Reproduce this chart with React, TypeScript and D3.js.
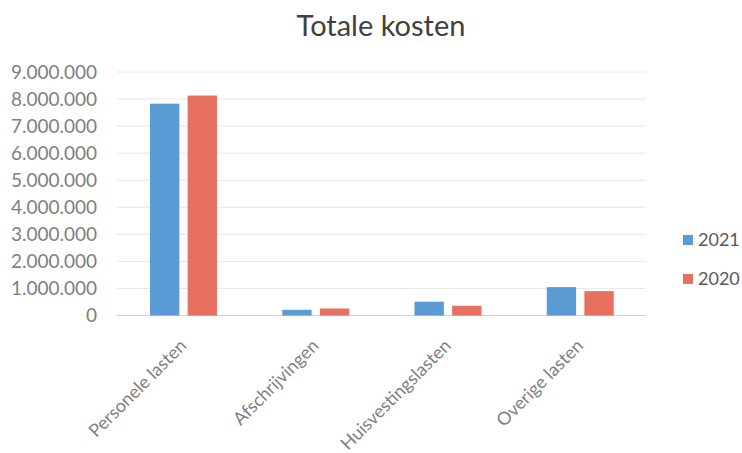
import React from "react";
import * as d3 from "d3";

const categories = ["Personele lasten", "Afschrijvingen", "Huisvestingslasten", "Overige lasten"];
const seriesNames = ["2021", "2020"];
const values2021 = [7830000, 210000, 510000, 1050000];
const values2020 = [8130000, 260000, 360000, 900000];
const yTicks = [0, 1000000, 2000000, 3000000, 4000000, 5000000, 6000000, 7000000, 8000000, 9000000];
const colors = ["#5b9bd5", "#e8705f"];

const W = 742;
const H = 453;
const FONT = "Lato, 'Open Sans', sans-serif";

export default function App() {
  const x = d3.scaleBand<string>().domain(categories).range([117.5, 646.5]).paddingInner(0).paddingOuter(0);
  const inner = d3.scaleBand<string>().domain(seriesNames).range([32.5, 132 - 32.5]).paddingInner(0.22);
  const y = d3.scaleLinear().domain([0, 9000000]).range([315.5, 72]);
  const fmt = (v: number) => d3.format(",")(v).replace(/,/g, ".");
  const series = [values2021, values2020];

  return (
    <svg width={W} height={H} style={{ position: "absolute", left: 0, top: 0, background: "#fff" }} fontFamily={FONT}>
      <rect width={W} height={H} fill="#fff" />
      <text x={381} y={36} textAnchor="middle" fontSize={29} fill="#404040">Totale kosten</text>
      {yTicks.map((t) => (
        <g key={t}>
          <line x1={117} x2={646} y1={y(t)} y2={y(t)} stroke={t === 0 ? "#d0d0d0" : "#e6e6e6"} strokeWidth={1} />
          <text x={97} y={y(t)} dy="0.35em" textAnchor="end" fontSize={19} fill="#7f7f7f">{fmt(t)}</text>
        </g>
      ))}
      {categories.map((c, i) => (
        <g key={c} transform={`translate(${x(c)},0)`}>
          {seriesNames.map((s, j) => (
            <rect key={s} x={inner(s)} width={inner.bandwidth()} y={y(series[j][i])} height={y(0) - y(series[j][i])} fill={colors[j]} />
          ))}
        </g>
      ))}
      {categories.map((c) => (
        <text key={c} transform={`translate(${(x(c) as number) + x.bandwidth() / 2 + 4},${347}) rotate(-45)`} textAnchor="end" fontSize={18} fill="#7f7f7f">{c}</text>
      ))}
      {seriesNames.map((s, j) => (
        <g key={s} transform={`translate(683,${240 + j * 39})`}>
          <rect x={0} y={-5} width={10} height={10} fill={colors[j]} />
          <text x={15} y={0} dy="0.35em" fontSize={18} fill="#595959">{s}</text>
        </g>
      ))}
    </svg>
  );
}
